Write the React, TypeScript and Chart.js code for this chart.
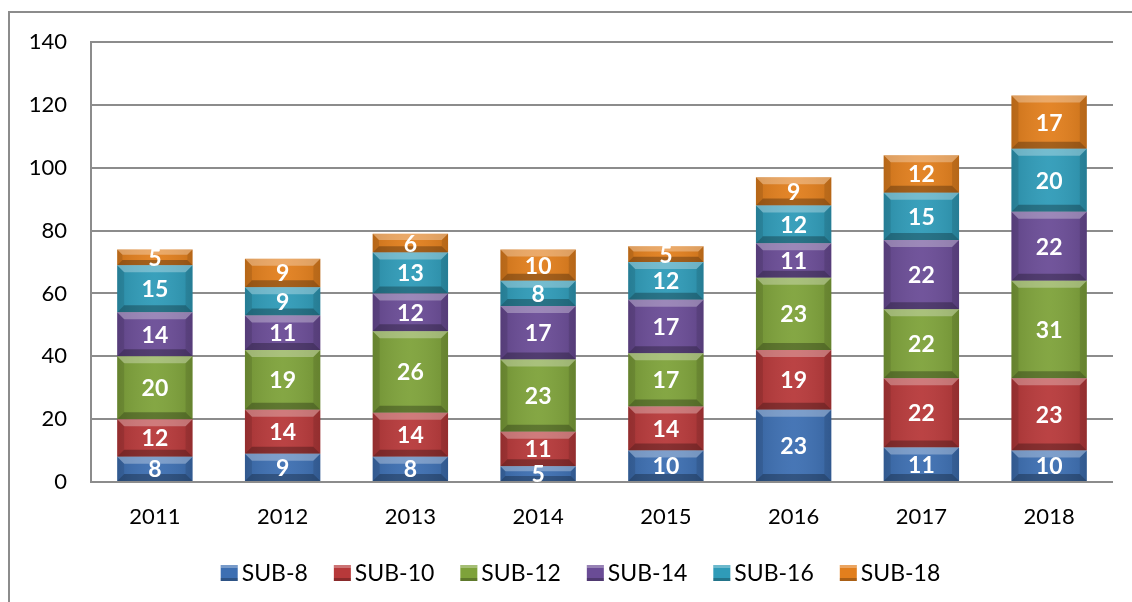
import React, { useEffect, useRef } from "react";
import { Chart, registerables } from "chart.js";

Chart.register(...registerables);

const years = ["2011", "2012", "2013", "2014", "2015", "2016", "2017", "2018"];
const seriesNames = ["SUB-8", "SUB-10", "SUB-12", "SUB-14", "SUB-16", "SUB-18"];
const sub8 = [8, 9, 8, 5, 10, 23, 11, 10];
const sub10 = [12, 14, 14, 11, 14, 19, 22, 23];
const sub12 = [20, 19, 26, 23, 17, 23, 22, 31];
const sub14 = [14, 11, 12, 17, 17, 11, 22, 22];
const sub16 = [15, 9, 13, 8, 12, 12, 15, 20];
const sub18 = [5, 9, 6, 10, 5, 9, 12, 17];
const seriesValues = [sub8, sub10, sub12, sub14, sub16, sub18];
const seriesColors = ["#3d6fb2", "#b7393a", "#7ea23a", "#6a4c96", "#2f9bb8", "#e27f1d"];
const yTicks = [0, 20, 40, 60, 80, 100, 120, 140];

const FONT = "Lato, 'Noto Sans', sans-serif";

const bevelPlugin = {
  id: "bevel",
  afterDatasetsDraw(chart: any) {
    const ctx = chart.ctx;
    chart.data.datasets.forEach((_ds: any, di: number) => {
      const meta = chart.getDatasetMeta(di);
      meta.data.forEach((bar: any) => {
        const w = bar.width;
        const left = bar.x - w / 2;
        const right = bar.x + w / 2;
        const top = Math.min(bar.y, bar.base);
        const bottom = Math.max(bar.y, bar.base);
        const h = bottom - top;
        const b = Math.min(7, h / 3);
        ctx.save();
        const g = ctx.createLinearGradient(left, 0, right, 0);
        g.addColorStop(0, "rgba(0,0,0,0.1)");
        g.addColorStop(0.5, "rgba(255,255,255,0.05)");
        g.addColorStop(1, "rgba(0,0,0,0.1)");
        ctx.fillStyle = g;
        ctx.fillRect(left, top, w, h);
        ctx.fillStyle = "rgba(255,255,255,0.3)";
        ctx.beginPath();
        ctx.moveTo(left, top);
        ctx.lineTo(right, top);
        ctx.lineTo(right - b, top + b);
        ctx.lineTo(left + b, top + b);
        ctx.closePath();
        ctx.fill();
        ctx.fillStyle = "rgba(0,0,0,0.28)";
        ctx.beginPath();
        ctx.moveTo(left, bottom);
        ctx.lineTo(right, bottom);
        ctx.lineTo(right - b, bottom - b);
        ctx.lineTo(left + b, bottom - b);
        ctx.closePath();
        ctx.fill();
        ctx.fillStyle = "rgba(0,0,0,0.1)";
        ctx.beginPath();
        ctx.moveTo(left, top);
        ctx.lineTo(left + b, top + b);
        ctx.lineTo(left + b, bottom - b);
        ctx.lineTo(left, bottom);
        ctx.closePath();
        ctx.fill();
        ctx.beginPath();
        ctx.moveTo(right, top);
        ctx.lineTo(right - b, top + b);
        ctx.lineTo(right - b, bottom - b);
        ctx.lineTo(right, bottom);
        ctx.closePath();
        ctx.fill();
        ctx.restore();
      });
    });
    ctx.save();
    ctx.fillStyle = "#ffffff";
    ctx.font = `bold 23px ${FONT}`;
    ctx.textAlign = "center";
    ctx.textBaseline = "middle";
    chart.data.datasets.forEach((ds: any, di: number) => {
      const meta = chart.getDatasetMeta(di);
      meta.data.forEach((bar: any, i: number) => {
        const cy = (bar.y + bar.base) / 2;
        ctx.fillText(String(ds.data[i]), bar.x, cy + 1);
      });
    });
    ctx.restore();
  },
};

const legendPlugin = {
  id: "customLegend",
  afterDraw(chart: any) {
    const ctx = chart.ctx;
    ctx.save();
    ctx.font = `23px ${FONT}`;
    ctx.textBaseline = "middle";
    const boxW = 17;
    const boxH = 16;
    const gap = 4;
    const itemGap = 26;
    const widths = seriesNames.map((n) => boxW + gap + ctx.measureText(n).width);
    const total = widths.reduce((a, b) => a + b, 0) + itemGap * (seriesNames.length - 1);
    let x = 580.5 - total / 2;
    const y = 573;
    seriesNames.forEach((n, i) => {
      ctx.fillStyle = seriesColors[i];
      ctx.fillRect(x, y - boxH / 2, boxW, boxH);
      ctx.fillStyle = "rgba(255,255,255,0.3)";
      ctx.fillRect(x, y - boxH / 2, boxW, 3);
      ctx.fillStyle = "rgba(0,0,0,0.25)";
      ctx.fillRect(x, y + boxH / 2 - 3, boxW, 3);
      ctx.fillStyle = "#000000";
      ctx.fillText(n, x + boxW + gap, y + 1);
      x += widths[i] + itemGap;
    });
    ctx.restore();
  },
};

export default function App() {
  const ref = useRef<HTMLCanvasElement | null>(null);
  useEffect(() => {
    if (!ref.current) return;
    const chart = new Chart(ref.current, {
      type: "bar",
      data: {
        labels: years,
        datasets: seriesValues.map((vals, i) => ({
          label: seriesNames[i],
          data: vals,
          backgroundColor: seriesColors[i],
          borderWidth: 0,
          barPercentage: 0.59,
          categoryPercentage: 1,
        })),
      },
      options: {
        animation: false,
        responsive: false,
        maintainAspectRatio: false,
        layout: { padding: { left: 20, right: 19, top: 42, bottom: 70 } },
        plugins: { legend: { display: false }, tooltip: { enabled: false } },
        scales: {
          x: {
            stacked: true,
            grid: { display: false, drawTicks: false },
            border: { display: false },
            ticks: { color: "#000", font: { family: FONT, size: 22 }, padding: 22 },
            afterFit: (s: any) => {
              s.height = 50;
            },
          },
          y: {
            stacked: true,
            min: 0,
            max: 140,
            afterBuildTicks: (s: any) => {
              s.ticks = yTicks.map((v) => ({ value: v }));
            },
            grid: { color: "#8c8c8c", lineWidth: 2, drawTicks: false },
            border: { display: true, color: "#8c8c8c", width: 2 },
            ticks: { color: "#000", font: { family: FONT, size: 22 }, padding: 24 },
            afterFit: (s: any) => {
              s.width = 71;
            },
          },
        },
      },
      plugins: [bevelPlugin, legendPlugin],
    });
    return () => chart.destroy();
  }, []);
  return (
    <div style={{ position: "fixed", left: 0, top: 0, width: 1132, height: 602, background: "#fff", overflow: "hidden" }}>
      <div
        style={{
          position: "absolute",
          left: 8,
          top: 11,
          width: 1140,
          height: 620,
          border: "2px solid #8c8c8c",
          boxSizing: "border-box",
        }}
      />
      <canvas ref={ref} width={1132} height={602} style={{ position: "absolute", left: 0, top: 0 }} />
    </div>
  );
}
